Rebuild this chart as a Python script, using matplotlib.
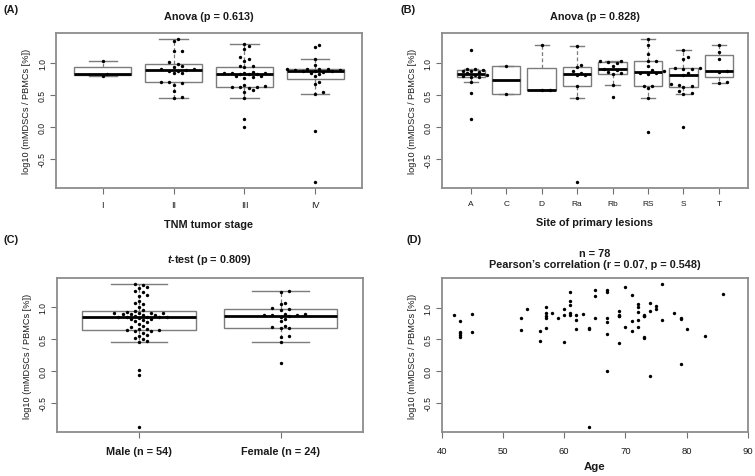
import numpy as np
import matplotlib
matplotlib.use("Agg")
import matplotlib.pyplot as plt

plt.rcParams['font.family'] = ['Liberation Sans', 'DejaVu Sans']
plt.rcParams['mathtext.fontset'] = 'custom'
plt.rcParams['mathtext.it'] = 'Liberation Sans:italic:bold'
plt.rcParams['mathtext.rm'] = 'Liberation Sans:bold'

# ---------------- data ----------------
stage_labels = ["I", "II", "III", "IV"]
stage_I = [1.03, 0.83, 0.80]
stage_II = [1.38, 1.34, 1.19, 1.18, 1.01, 0.99, 0.95, 0.93, 0.90, 0.90, 0.89,
            0.88, 0.87, 0.84, 0.84, 0.70, 0.70, 0.68, 0.66, 0.56, 0.46, 0.45]
stage_III = [1.29, 1.26, 1.22, 1.09, 1.06, 1.03, 0.96, 0.95, 0.93, 0.86, 0.85,
             0.85, 0.84, 0.84, 0.83, 0.82, 0.82, 0.80, 0.79, 0.78, 0.77, 0.66,
             0.64, 0.63, 0.63, 0.62, 0.60, 0.57, 0.55, 0.45, 0.12, 0.00]
stage_IV = [1.28, 1.25, 1.06, 0.97, 0.91, 0.91, 0.90, 0.90, 0.89, 0.89, 0.88,
            0.88, 0.87, 0.86, 0.85, 0.83, 0.80, 0.70, 0.67, 0.54, 0.52, -0.07, -0.87]

site_labels = ["A", "C", "D", "Ra", "Rb", "RS", "S", "T"]
site_A = [1.21, 0.91, 0.90, 0.89, 0.88, 0.87, 0.86, 0.84, 0.82, 0.81, 0.80,
          0.79, 0.78, 0.71, 0.54, 0.12]
site_C = [0.95, 0.52]
site_D = [1.28, 0.58, 0.58]
site_Ra = [1.26, 0.97, 0.94, 0.87, 0.85, 0.82, 0.82, 0.64, 0.45, -0.86]
site_Rb = [1.04, 1.03, 1.02, 1.00, 0.96, 0.91, 0.89, 0.86, 0.84, 0.83, 0.66, 0.47]
site_RS = [1.38, 1.29, 1.14, 1.04, 1.03, 0.96, 0.89, 0.87, 0.85, 0.85, 0.83,
           0.64, 0.64, 0.61, 0.45, -0.07]
site_S = [1.20, 1.10, 1.07, 0.93, 0.92, 0.91, 0.90, 0.85, 0.82, 0.67, 0.66,
          0.65, 0.63, 0.56, 0.54, 0.52, 0.00]
site_T = [1.28, 1.18, 1.07, 0.88, 0.86, 0.70, 0.69]

sex_labels = ["Male (n = 54)", "Female (n = 24)"]
male = [1.36, 1.34, 1.31, 1.29, 1.25, 1.23, 1.19, 1.17, 1.09, 1.06, 1.05, 1.00,
        0.96, 0.94, 0.92, 0.91, 0.91, 0.90, 0.90, 0.89, 0.89, 0.88, 0.87, 0.86,
        0.85, 0.85, 0.84, 0.84, 0.84, 0.83, 0.82, 0.81, 0.80, 0.78, 0.76, 0.74,
        0.70, 0.68, 0.66, 0.65, 0.64, 0.64, 0.63, 0.62, 0.60, 0.57, 0.55, 0.52,
        0.50, 0.47, 0.45, 0.01, -0.07, -0.87]
female = [1.25, 1.23, 1.07, 1.04, 0.98, 0.97, 0.96, 0.89, 0.89, 0.88, 0.87,
          0.87, 0.86, 0.85, 0.82, 0.78, 0.70, 0.68, 0.67, 0.67, 0.54, 0.53,
          0.45, 0.12]

age = [42, 43, 43, 43, 43, 43, 45, 45, 53, 53, 54, 56, 56, 57, 57, 57, 57, 57,
       58, 59, 60, 60, 60, 61, 61, 61, 61, 61, 62, 62, 62, 63, 64, 64, 64,
       65, 65, 65, 67, 67, 67, 67, 67, 67, 69, 69, 69, 69, 69, 70, 70,
       71, 71, 71, 72, 72, 72, 72, 72, 73, 73, 73, 73, 73, 74, 74, 74,
       75, 75, 76, 76, 78, 79, 79, 79, 80, 83, 86]
mdsc = [0.89, 0.79, 0.62, 0.60, 0.57, 0.53, 0.90, 0.62, 0.84, 0.64, 0.97, 0.63, 0.47,
        1.01, 0.91, 0.86, 0.84, 0.68, 0.92, 0.84, 0.97, 0.89, 0.46,
        1.25, 1.10, 1.04, 0.91, 0.88, 0.88, 0.80, 0.66, 0.90, 0.68, 0.67, -0.87,
        1.28, 1.18, 0.83, 1.28, 1.24, 0.83, 0.77, 0.58, 0.01,
        0.95, 0.89, 0.87, 0.86, 0.45, 1.33, 0.69, 1.20, 0.79, 0.63,
        1.06, 1.01, 0.93, 0.80, 0.70, 0.88, 0.87, 0.86, 0.53, 0.52,
        1.07, 0.94, -0.08, 1.03, 0.97, 1.37, 0.80, 0.91, 0.84, 0.82, 0.12,
        0.67, 0.56, 1.21]

titles = ["Anova (p = 0.613)", "Anova (p = 0.828)", r"$\mathit{t}$-test (p = 0.809)",
          "n = 78\nPearson\u2019s correlation (r = 0.07, p = 0.548)"]
ylab = "log10 (mMDSCs / PBMCs [%])"

# ---------------- helpers ----------------
W, H = 755, 477
fig = plt.figure(figsize=(W / 100, H / 100), dpi=100)
FRAME = '#8c8c8c'
BOXC = '#7c7c7c'
TXT = '#1a1a1a'


def fig_axes(x0, y0, x1, y1):
    return fig.add_axes([x0 / W, 1 - y1 / H, (x1 - x0) / W, (y1 - y0) / H])


def fivenum(v):
    v = np.sort(np.asarray(v, float))
    n = len(v)
    n4 = np.floor((n + 3) / 2) / 2
    d = np.array([1, n4, (n + 1) / 2, n + 1 - n4, n]) - 1
    return 0.5 * (v[np.floor(d).astype(int)] + v[np.ceil(d).astype(int)])


def rstats(v, label):
    v = np.asarray(v, float)
    mn, q1, med, q3, mx = fivenum(v)
    iqr = q3 - q1
    lo = v[v >= q1 - 1.5 * iqr].min()
    hi = v[v <= q3 + 1.5 * iqr].max()
    return dict(med=med, q1=q1, q3=q3, whislo=lo, whishi=hi, label=label, fliers=[])


def set_ylim(ax, allv):
    lo, hi = min(allv), max(allv)
    r = hi - lo
    ax.set_ylim(lo - 0.04 * r, hi + 0.04 * r)


def swarm_x(ax, pos, vals, d_px=4.3):
    vals = np.asarray(vals, float)
    pts = ax.transData.transform(np.column_stack([np.full(len(vals), pos), vals]))
    ys = pts[:, 1]
    order = np.argsort(vals, kind='stable')
    cands = [0]
    for j in range(1, 60):
        cands += [j, -j]
    placed = []
    offs = np.zeros(len(vals))
    for i in order:
        y = ys[i]
        for c in cands:
            x = c * d_px * 0.95
            if all((x - px) ** 2 + (y - py) ** 2 >= (d_px * 0.999) ** 2 for px, py in placed):
                break
        placed.append((x, y))
        offs[i] = x
    x0 = ax.transData.transform((pos, 0))[0]
    x1 = ax.transData.transform((pos + 1, 0))[0]
    return pos + offs / (x1 - x0)


def style(ax):
    for sp in ax.spines.values():
        sp.set_color(FRAME)
        sp.set_linewidth(1.3)
    ax.tick_params(direction='out', length=4, width=0.8, color='#707070',
                   labelsize=6.2, labelcolor=TXT, pad=2.5)
    ax.set_yticks([-0.5, 0.0, 0.5, 1.0])
    ax.set_yticklabels(["-0.5", "0.0", "0.5", "1.0"], rotation=90, va='center')
    ax.set_ylabel(ylab, fontsize=6.6, color=TXT, labelpad=5)


def boxpanel(ax, groups, labels):
    n = len(groups)
    ax.set_xlim(0.5 - 0.04 * n, n + 0.5 + 0.04 * n)
    set_ylim(ax, [v for g in groups for v in g])
    stats = [rstats(g, l) for g, l in zip(groups, labels)]
    ax.bxp(stats, positions=range(1, n + 1), widths=0.8, capwidths=0.4,
           showfliers=False, patch_artist=True,
           boxprops=dict(facecolor='white', edgecolor=BOXC, linewidth=1.0),
           medianprops=dict(color='black', linewidth=2.0),
           whiskerprops=dict(color=BOXC, linewidth=0.9, linestyle=(0, (3, 2))),
           capprops=dict(color=BOXC, linewidth=1.0), zorder=1)
    for i, g in enumerate(groups):
        xs = swarm_x(ax, i + 1, g)
        ax.scatter(xs, g, s=6, color='black', linewidths=0, zorder=3)
    style(ax)


def title(ax, s, pad):
    ax.set_title(s, fontsize=7.8, fontweight='bold', color=TXT, pad=pad, linespacing=1.2)


# ---------------- panel A ----------------
axA = fig_axes(56, 34, 362, 189)
boxpanel(axA, [stage_I, stage_II, stage_III, stage_IV], stage_labels)
axA.set_xticks(range(1, 5))
axA.set_xticklabels(stage_labels, fontsize=6.5)
axA.tick_params(axis='x', pad=4.5)
axA.set_xlabel("TNM tumor stage", fontsize=7.8, fontweight='bold', color=TXT, labelpad=7)
title(axA, titles[0], 10)

# ---------------- panel B ----------------
axB = fig_axes(441.7, 34, 748, 189)
boxpanel(axB, [site_A, site_C, site_D, site_Ra, site_Rb, site_RS, site_S, site_T], site_labels)
axB.set_xticks(range(1, 9))
axB.set_xticklabels(site_labels, fontsize=6.0)
axB.tick_params(axis='x', pad=4.5)
axB.set_xlabel("Site of primary lesions", fontsize=7.8, fontweight='bold', color=TXT, labelpad=7)
title(axB, titles[1], 10)

# ---------------- panel C ----------------
axC = fig_axes(56.7, 279.3, 362.7, 433.3)
boxpanel(axC, [male, female], sex_labels)
axC.set_xticks([1, 2])
axC.set_xticklabels(sex_labels, fontsize=7.8, fontweight='bold')
axC.tick_params(axis='x', pad=6)
title(axC, titles[2], 12)

# ---------------- panel D ----------------
axD = fig_axes(441.7, 279.3, 748, 433.3)
axD.scatter(age, mdsc, s=6, color='black', linewidths=0, zorder=3)
axD.set_xlim(40, 90)
set_ylim(axD, mdsc)
style(axD)
axD.set_xticks([40, 50, 60, 70, 80, 90])
axD.set_xticklabels(["40", "50", "60", "70", "80", "90"],
                    fontsize=6.8, family=['Liberation Sans Narrow', 'Liberation Sans'])
axD.tick_params(axis='x', pad=6)
axD.set_xlabel("Age", fontsize=8.2, fontweight='bold', color=TXT, labelpad=4)
title(axD, titles[3], 8)

# ---------------- panel letters ----------------
for s, x, y in [("(A)", 3, 5), ("(B)", 400, 5), ("(C)", 3, 235), ("(D)", 407, 235)]:
    fig.text(x / W, 1 - y / H, s, fontsize=7.8, fontweight='bold', color=TXT,
             ha='left', va='top')

fig.savefig("out.png", dpi=100)
